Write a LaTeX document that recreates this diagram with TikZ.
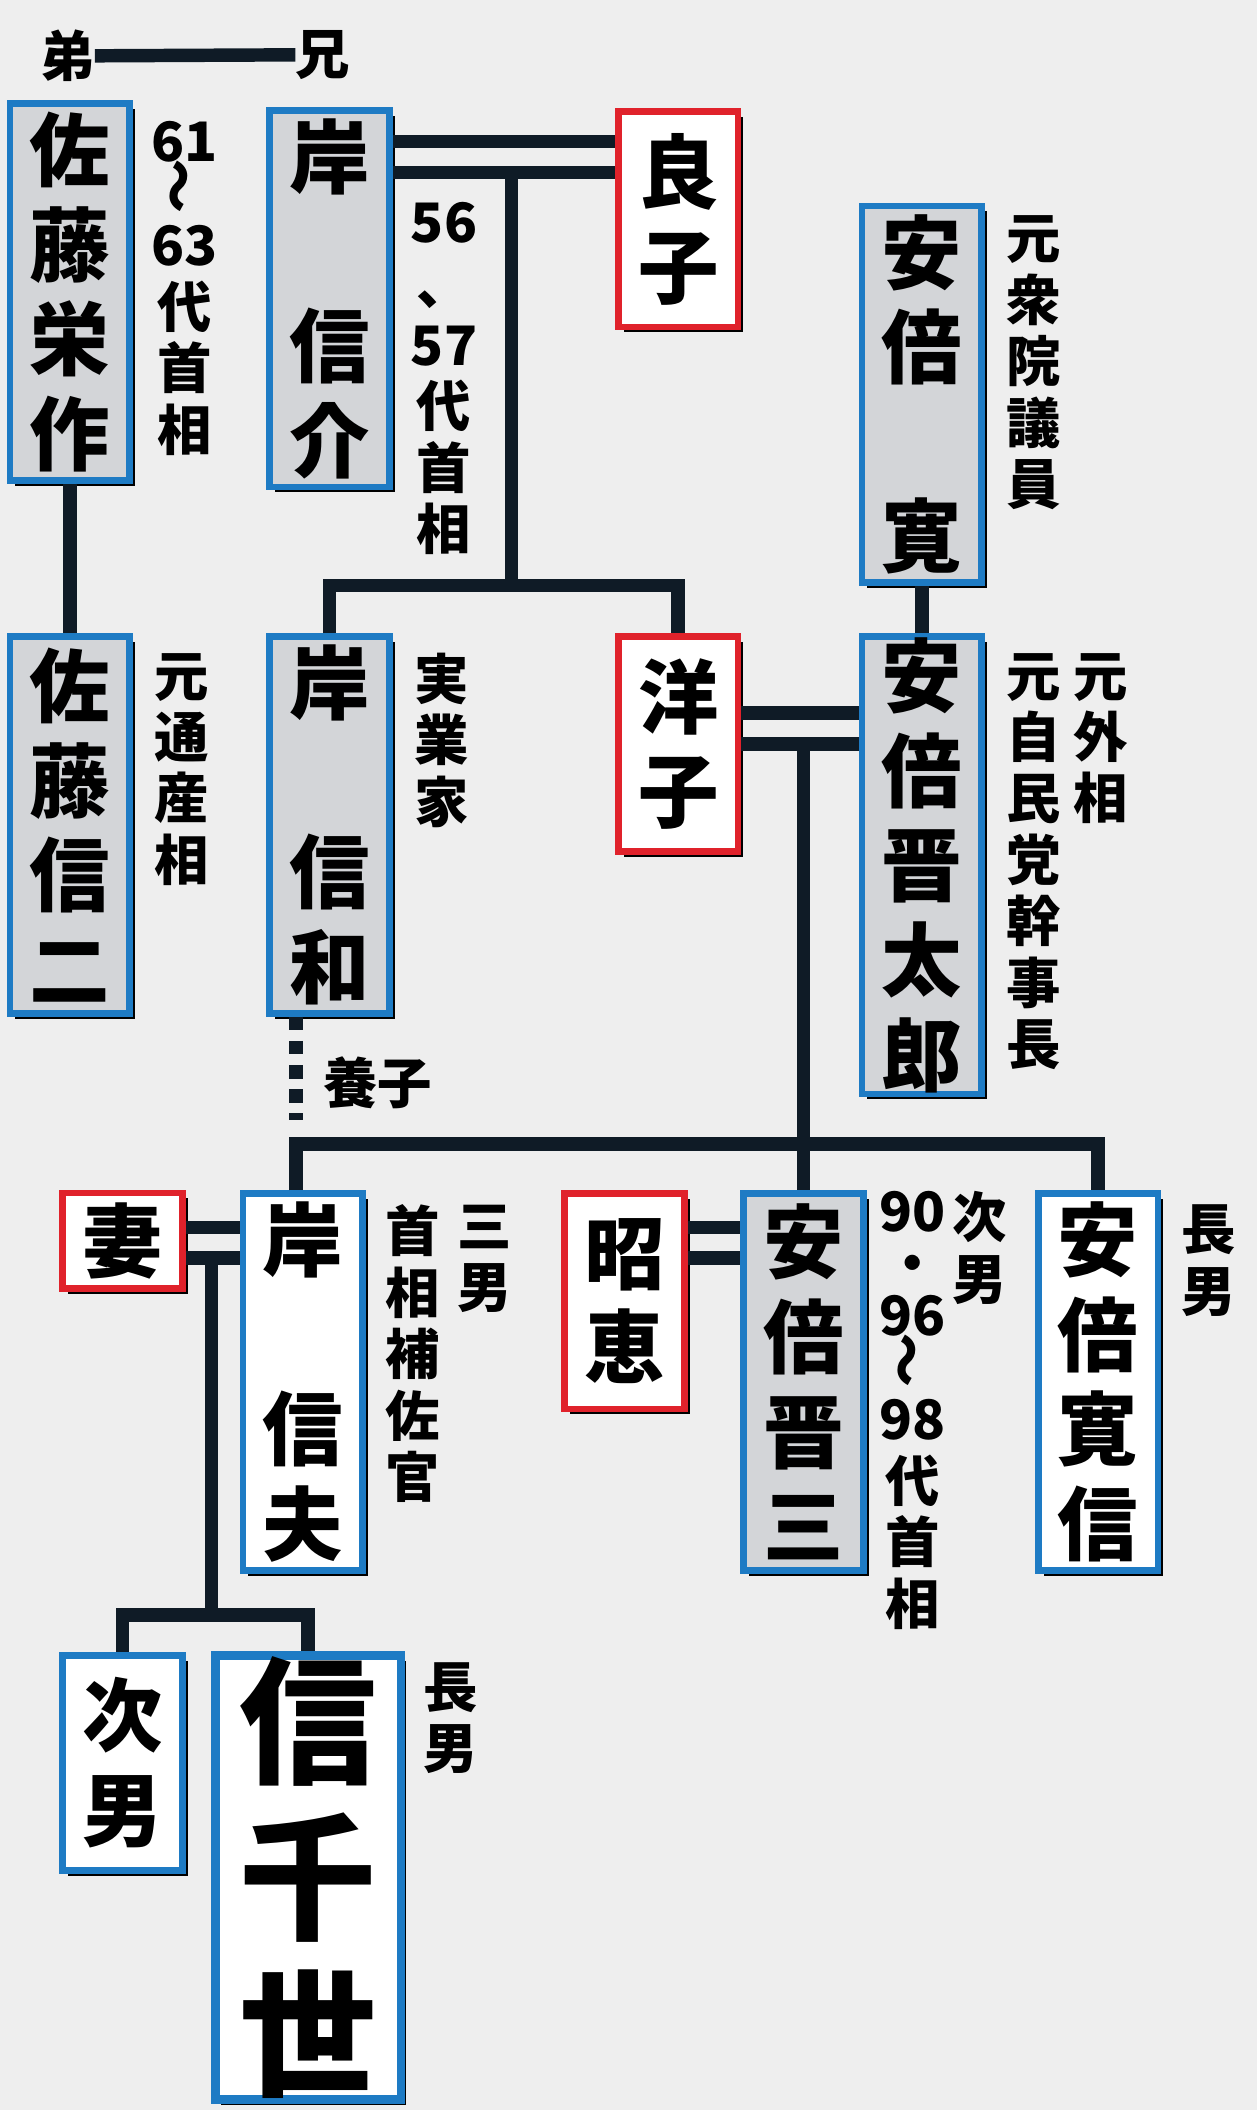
\documentclass[tikz,border=0pt]{standalone}
\usepackage{fontspec}
\setmainfont{Noto Sans CJK JP}
\usetikzlibrary{shadows}
\definecolor{ink}{HTML}{0F1B26}
\definecolor{bblue}{HTML}{1E7BC4}
\definecolor{rred}{HTML}{E0222B}
\definecolor{boxgray}{HTML}{D3D5D8}
\definecolor{paper}{HTML}{EEEEEE}
\tikzset{
  person/.style={draw=bblue, line width=0.1cm, fill=white, align=center, inner sep=0pt,
    minimum width=1.78cm, font=\fontsize{34}{40}\selectfont\bfseries,
    drop shadow={fill=black, opacity=1, shadow xshift=0.08cm, shadow yshift=-0.08cm}},
  pm/.style={person, fill=boxgray},
  wife/.style={person, draw=rred},
  note/.style={align=center, anchor=north, inner sep=0pt, font=\fontsize{23}{26}\selectfont\bfseries},
  tie/.style={draw=ink, line width=0.2cm},
}
\begin{document}
\begin{tikzpicture}[x=0.02cm, y=-0.02cm]
\fill[paper] (0,0) rectangle (934,1568);
\useasboundingbox (0,0) rectangle (934,1568);
% first generation
\node[pm, minimum height=5.6cm] (sato) at (52,217) {佐\\藤\\栄\\作};
\node[pm, minimum height=5.6cm] (kishi) at (245,222) {岸\\[40pt]信\\介};
\node[wife, minimum height=3.2cm] (yoshiko) at (504,163) {良\\子};
\node[pm, minimum height=5.6cm] (kan) at (685,293) {安\\倍\\[40pt]寛};
\node[note] (bro) at (50,22) {弟};
\node[note] (elder) at (240,22) {兄};
% second generation
\node[pm, minimum height=5.6cm] (shinji) at (52,613) {佐\\藤\\信\\二};
\node[pm, minimum height=5.6cm] (nobukazu) at (245,613) {岸\\[40pt]信\\和};
\node[wife, minimum height=3.2cm] (yoko) at (504,553) {洋\\子};
\node[pm, minimum height=6.8cm] (shintaro) at (685,643) {安\\倍\\晋\\太\\郎};
% third generation
\node[wife, minimum height=1.42cm] (tsuma) at (91,922) {妻};
\node[person, minimum height=5.6cm] (nobuo) at (225,1027) {岸\\[40pt]信\\夫};
\node[wife, minimum height=3.2cm] (akie) at (464,967) {昭\\恵};
\node[pm, minimum height=5.6cm] (shinzo) at (597,1027) {安\\倍\\晋\\三};
\node[person, minimum height=5.6cm] (hironobu) at (816,1027) {安\\倍\\寛\\信};
% fourth generation
\node[person, minimum height=3.2cm] (jinan) at (91,1310) {次\\男};
\node[person, minimum width=2.76cm, minimum height=6.6cm, line width=0.13cm,
  font=\fontsize{58}{66}\selectfont\bfseries] (nobuchiyo) at (229,1395) {信\\千\\世};
% notes
\node[note] at (137,90) {61\\[-4pt]\rotatebox{90}{～}\\[-4pt]63\\代\\首\\相};
\node[note] at (330,150) {56\\、\\57\\代\\首\\相};
\node[note] at (768,160) {元\\衆\\院\\議\\員};
\node[note] at (135,485) {元\\通\\産\\相};
\node[note] at (328,485) {実\\業\\家};
\node[note] at (818,485) {元\\外\\相};
\node[note] at (768,485) {元\\自\\民\\党\\幹\\事\\長};
\node[note, anchor=west] (yoshi) at (240,805) {養子};
\node[note] at (360,895) {三\\男};
\node[note] at (307,895) {首\\相\\補\\佐\\官};
\node[note] at (728,885) {次\\男};
\node[note] at (678,885) {90\\[-4pt]・\\[-4pt]96\\[-4pt]\rotatebox{90}{～}\\[-4pt]98\\代\\首\\相};
\node[note] at (898,895) {長\\男};
\node[note] at (335,1235) {長\\男};
% connectors
\draw[tie] (bro) -- (elder);
\draw[tie] (sato) -- (shinji);
\draw[tie] (kishi.east |- 0,105) -- (yoshiko.west |- 0,105);
\draw[tie] (kishi.east |- 0,128) -- (yoshiko.west |- 0,128);
\draw[tie] (380,128) -- (380,435);
\draw[tie] (nobukazu.north) |- (380,435) -| (yoko.north);
\draw[tie] (kan) -- (shintaro);
\draw[tie] (yoko.east |- 0,530) -- (shintaro.west |- 0,530);
\draw[tie] (yoko.east |- 0,553) -- (shintaro.west |- 0,553);
\draw[tie] (597,553) -- (shinzo.north);
\draw[tie] (nobuo.north -| 220,0) |- (597,850) -| (hironobu.north);
\draw[tie, dash pattern=on 0.2cm off 0.16cm] (nobukazu.south -| 220,0) -- (220,832);
\draw[tie] (tsuma.east |- 0,912) -- (nobuo.west |- 0,912);
\draw[tie] (tsuma.east |- 0,935) -- (nobuo.west |- 0,935);
\draw[tie] (akie.east |- 0,912) -- (shinzo.west |- 0,912);
\draw[tie] (akie.east |- 0,935) -- (shinzo.west |- 0,935);
\draw[tie] (157,935) -- (157,1200);
\draw[tie] (jinan.north) |- (157,1200) -| (nobuchiyo.north);
\end{tikzpicture}
\end{document}
